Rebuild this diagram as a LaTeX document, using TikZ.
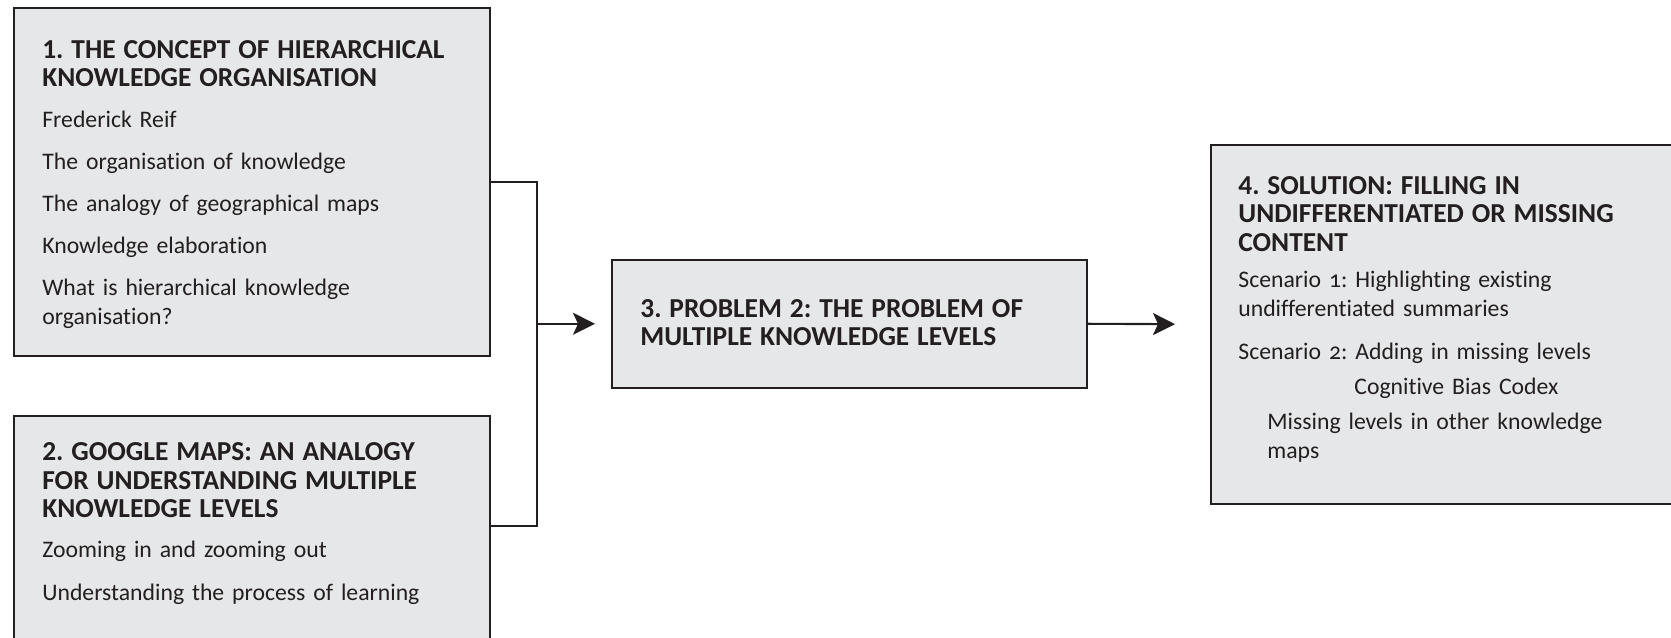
\documentclass[tikz,border=0pt]{standalone}
\usepackage{fontspec}
\setmainfont{Carlito}[Ligatures=NoCommon]
\newfontfamily\oldnum{Carlito}[Numbers=OldStyle, Ligatures=NoCommon]
\usetikzlibrary{arrows.meta}
\definecolor{panelgrey}{HTML}{E6E7E8}
\definecolor{inkgrey}{HTML}{231F20}
\newcommand{\hd}[1]{{\fontsize{15.6}{16.5}\selectfont\bfseries #1}}
\frenchspacing

\begin{document}
\begin{tikzpicture}[
	panel/.style={draw=inkgrey, line width=0.9pt, fill=panelgrey, inner sep=0pt, anchor=north west},
	txt/.style={anchor=base west, inner sep=0pt, text width=12cm, align=left, text=inkgrey, font=\fontsize{13.5}{16.5}\selectfont},
	link/.style={draw=inkgrey, line width=1.2pt},
	pointer/.style={link, -{Stealth[length=0.44cm, width=0.44cm, inset=0.1cm]}}
]
	\useasboundingbox (0,0) rectangle (33.42,-12.76);
	\clip (0,0) rectangle (33.42,-12.76);

	\node[panel, minimum width=9.52cm, minimum height=6.96cm] (concept) at (0.26,-0.14) {};
	\node[panel, minimum width=9.52cm, minimum height=6cm] (maps) at (0.26,-8.30) {};
	\node[panel, minimum width=9.50cm, minimum height=2.56cm] (problem) at (12.22,-5.18) {};
	\node[panel, minimum width=11.5cm, minimum height=7.18cm] (solution) at (24.20,-2.88) {};

	\node[txt] (conceptText) at (0.84,-1.16) {\hd{1. THE CONCEPT OF HIERARCHICAL}\\
		\hd{KNOWLEDGE ORGANISATION}\\[0.24cm]
		Frederick Reif\\[0.26cm]
		The organisation of knowledge\\[0.26cm]
		The analogy of geographical maps\\[0.26cm]
		Knowledge elaboration\\[0.26cm]
		What is hierarchical knowledge\\
		organisation?};
	\node[txt] (mapsText) at (0.84,-9.20) {\hd{2. GOOGLE MAPS: AN ANALOGY}\\
		\hd{FOR UNDERSTANDING MULTIPLE}\\
		\hd{KNOWLEDGE LEVELS}\\[0.22cm]
		Zooming in and zooming out\\[0.28cm]
		Understanding the process of learning};
	\node[txt] (problemText) at (12.80,-6.34) {\hd{3. PROBLEM 2: THE PROBLEM OF}\\
		\hd{MULTIPLE KNOWLEDGE LEVELS}};
	\node[txt] (solutionText) at (24.76,-3.88) {\hd{4. SOLUTION: FILLING IN}\\
		\hd{UNDIFFERENTIATED OR MISSING}\\
		\hd{CONTENT}\\[0.14cm]
		{\oldnum Scenario 1}: Highlighting existing\\
		undifferentiated summaries\\[0.28cm]
		{\oldnum Scenario 2}: Adding in missing levels\\[0.12cm]
		\hspace*{2.32cm}Cognitive Bias Codex\\[0.12cm]
		\hspace*{0.58cm}Missing levels in other knowledge\\
		\hspace*{0.58cm}maps};

	\coordinate (bus) at ([xshift=-1.48cm]problem.west);
	\draw[link] (concept.east) -| (bus) |- ([yshift=-2.22cm]maps.north east);
	\draw[pointer, shorten >=0.32cm] (bus) -- (problem.west);
	\draw[pointer, shorten >=0.7cm] (problem.east) -- (solution.west);
\end{tikzpicture}
\end{document}
